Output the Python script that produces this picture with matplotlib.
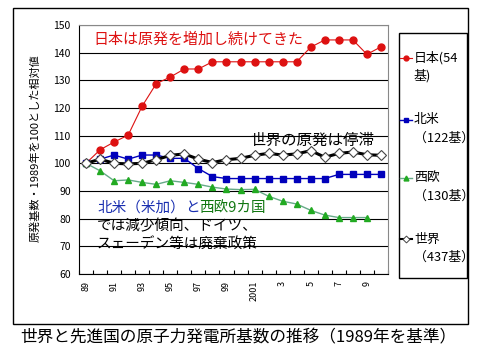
import matplotlib
matplotlib.use("Agg")
import matplotlib.pyplot as plt
from matplotlib.lines import Line2D
from matplotlib.patches import Rectangle

plt.rcParams['font.family'] = ['Noto Sans CJK JP', 'DejaVu Sans']

# データ（1989年=100とした相対値）
years = list(range(1989, 2011))
year_labels = ["89", "", "91", "", "93", "", "95", "", "97", "", "99", "",
               "2001", "", "3", "", "5", "", "7", "", "9", ""]
japan = [100, 104.9, 107.7, 110.2, 120.7, 128.8, 131.2, 134.1, 134.1, 136.7, 136.7,
         136.7, 136.7, 136.7, 136.7, 136.7, 142.0, 144.6, 144.6, 144.6, 139.4, 142.1]
north_america = [100, 101.5, 103.0, 101.5, 103.0, 103.0, 101.8, 101.8, 98.1, 95.2, 94.5,
                 94.5, 94.5, 94.5, 94.5, 94.5, 94.5, 94.5, 96.0, 96.0, 96.0, 96.0]
west_europe = [100, 97.3, 93.7, 94.0, 93.1, 92.4, 93.7, 93.1, 92.4, 91.4, 90.7,
               90.5, 90.6, 88.1, 86.3, 85.3, 83.0, 81.3, 80.4, 80.4, 80.4]
world = [100, 101.5, 100.0, 99.8, 100.0, 101.3, 102.9, 103.4, 101.5, 100.3, 101.3,
         101.8, 102.9, 103.6, 103.0, 103.4, 104.6, 102.2, 103.6, 104.1, 103.1, 102.9]

W, H = 480, 360


def fx(x):
    return x / W


def fy(y):
    return 1 - y / H


fig = plt.figure(figsize=(4.8, 3.6), dpi=100)
ax = fig.add_axes([fx(79), fy(274), (388 - 79) / W, (274 - 25) / H])

idx = list(range(len(years)))
ax.plot(idx, japan, color='#dd1111', lw=0.8, marker='o', ms=5, zorder=4)
ax.plot(idx, north_america, color='#0000bb', lw=1.0, marker='s', ms=5, zorder=4)
ax.plot(idx[:len(west_europe)], west_europe, color='#66aa88', lw=1.0, marker='^', ms=4.5,
        mfc='#22aa22', mec='#22aa22', zorder=4)
ax.plot(idx, world, color='black', lw=2.2, marker='D', ms=5, mfc='white',
        mec='#444444', mew=0.8, zorder=5)

ax.set_xlim(-0.5, len(years) - 0.5)
ax.set_ylim(60, 150)
ax.set_yticks(range(60, 151, 10))
ax.grid(axis='y', color='black', lw=0.8)
ax.set_axisbelow(True)
ax.tick_params(axis='y', length=0, pad=6, labelsize=7.5)

# 目盛り線は区切り位置、ラベルは中央
ax.set_xticks([i - 0.5 for i in range(len(years) + 1)])
ax.set_xticklabels([])
ax.set_xticks(idx, minor=True)
ax.set_xticklabels(year_labels, minor=True, rotation=90, fontsize=6.5)
ax.tick_params(axis='x', which='major', direction='in', length=3)
ax.tick_params(axis='x', which='minor', length=0, pad=5)

for s in ['top', 'right']:
    ax.spines[s].set_color('#888888')

# 注記
fig.text(fx(93), fy(40), "日本は原発を増加し続けてきた", color='#dd1111',
         fontsize=10.8, va='center')
fig.text(fx(250), fy(140), "世界の原発は停滞", color='black', fontsize=11.2, va='center')

fig.canvas.draw()
r = fig.canvas.get_renderer()
t1 = fig.text(fx(97), fy(208), "北米（米加）", color='#1a2fb0', fontsize=10.5, va='center')
x1 = t1.get_window_extent(r).x1
t2 = fig.text(x1 / W, fy(208), "と", color='#1a2fb0', fontsize=10.5, va='center')
x2 = t2.get_window_extent(r).x1
fig.text(x2 / W, fy(208), "西欧9カ国", color='#117711', fontsize=10.5, va='center')
fig.text(fx(97), fy(226), "では減少傾向、ドイツ、", color='black', fontsize=10.5, va='center')
fig.text(fx(97), fy(245), "スェーデン等は廃棄政策", color='black', fontsize=10.5, va='center')

fig.text(fx(35), fy(148), "原発基数・1989年を100とした相対値", rotation=90,
         fontsize=8, ha='center', va='center')
fig.text(fx(238), fy(338), "世界と先進国の原子力発電所基数の推移（1989年を基準）",
         fontsize=12, ha='center', va='center')

# 外枠
fig.add_artist(Rectangle((fx(12.5), fy(324)), (468 - 12.5) / W, (324 - 8) / H,
                         fill=False, ec='black', lw=1, transform=fig.transFigure))

# 凡例
fig.add_artist(Rectangle((fx(399), fy(278)), (467 - 399) / W, (278 - 33) / H,
                         fill=False, ec='black', lw=1, transform=fig.transFigure))
legend_items = [
    ("日本(54", "基)", dict(color='#dd1111', lw=0.8, marker='o', ms=3.5), 58),
    ("北米", "（122基）", dict(color='#0000bb', lw=1.0, marker='s', ms=3.5), 120),
    ("西欧", "（130基）", dict(color='#66aa88', lw=1.0, marker='^', ms=3.5,
                             mfc='#22aa22', mec='#22aa22'), 178),
    ("世界", "（437基）", dict(color='black', lw=1.5, marker='D', ms=3.5, mfc='white',
                             mec='#444444', mew=0.7), 239),
]
for line1, line2, style, yy in legend_items:
    fig.add_artist(Line2D([fx(400), fx(406), fx(412)], [fy(yy)] * 3, markevery=[1],
                          transform=fig.transFigure, **style))
    fig.text(fx(414), fy(yy), line1, fontsize=9.3, va='center')
    fig.text(fx(414), fy(yy + 18), line2, fontsize=9.3, va='center')

fig.savefig("out.png", dpi=100)
